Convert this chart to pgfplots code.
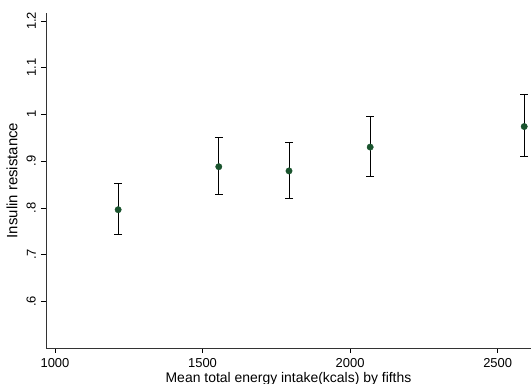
\documentclass[border=0pt]{standalone}
\usepackage{fontspec}
\setmainfont{Liberation Sans}
\usepackage{pgfplots}
\pgfplotsset{compat=1.18}
\definecolor{dotgreen}{RGB}{26,84,46}
\begin{document}
\begin{tikzpicture}
\useasboundingbox (0,0) rectangle (531bp,384bp);
\begin{axis}[
  at={(46bp,36bp)}, anchor=south west,
  scale only axis, width=485bp, height=335bp,
  xmin=969.5, xmax=2613, ymin=0.5, ymax=1.217,
  axis lines=left, axis line style={-, line width=0.6pt, black!80},
  xtick={1000,1500,2000,2500},
  ytick={0.6,0.7,0.8,0.9,1,1.1,1.2},
  yticklabels={.6,.7,.8,.9,1,1.1,1.2},
  tick align=outside, major tick length=5bp,
  tick style={line width=0.6pt, black},
  /pgf/number format/1000 sep={},
  /pgf/number format/assume math mode=true,
  ticklabel style={font=\fontsize{13}{15}\selectfont},
  yticklabel style={rotate=90, anchor=south, inner sep=5pt},
  xticklabel style={inner sep=2pt, yshift=-3bp},
  xlabel={Mean total energy intake(kcals) by fifths},
  ylabel={Insulin resistance},
  xlabel style={font=\fontsize{14}{16}\selectfont, at={(axis description cs:0.5,-0.0925)}, anchor=center, inner sep=0pt},
  ylabel style={font=\fontsize{15}{17}\selectfont, at={(axis description cs:-0.0701,0.5)}, anchor=center, inner sep=0pt},
  clip=false,
]
\addplot[only marks, mark=*, mark size=3.2bp, mark options={fill=dotgreen, draw=dotgreen},
  error bars/.cd, y dir=both, y explicit,
  error bar style={line width=0.9pt, black},
  error mark options={line width=0.9pt, black, mark size=4bp, rotate=90}]
  coordinates {
  (1214,0.796) += (0,0.057) -= (0,0.053)
  (1555,0.888) += (0,0.063) -= (0,0.059)
  (1793,0.879) += (0,0.062) -= (0,0.058)
  (2068,0.930) += (0,0.066) -= (0,0.062)
  (2590,0.974) += (0,0.069) -= (0,0.065)
  };
\end{axis}
\end{tikzpicture}
\end{document}
